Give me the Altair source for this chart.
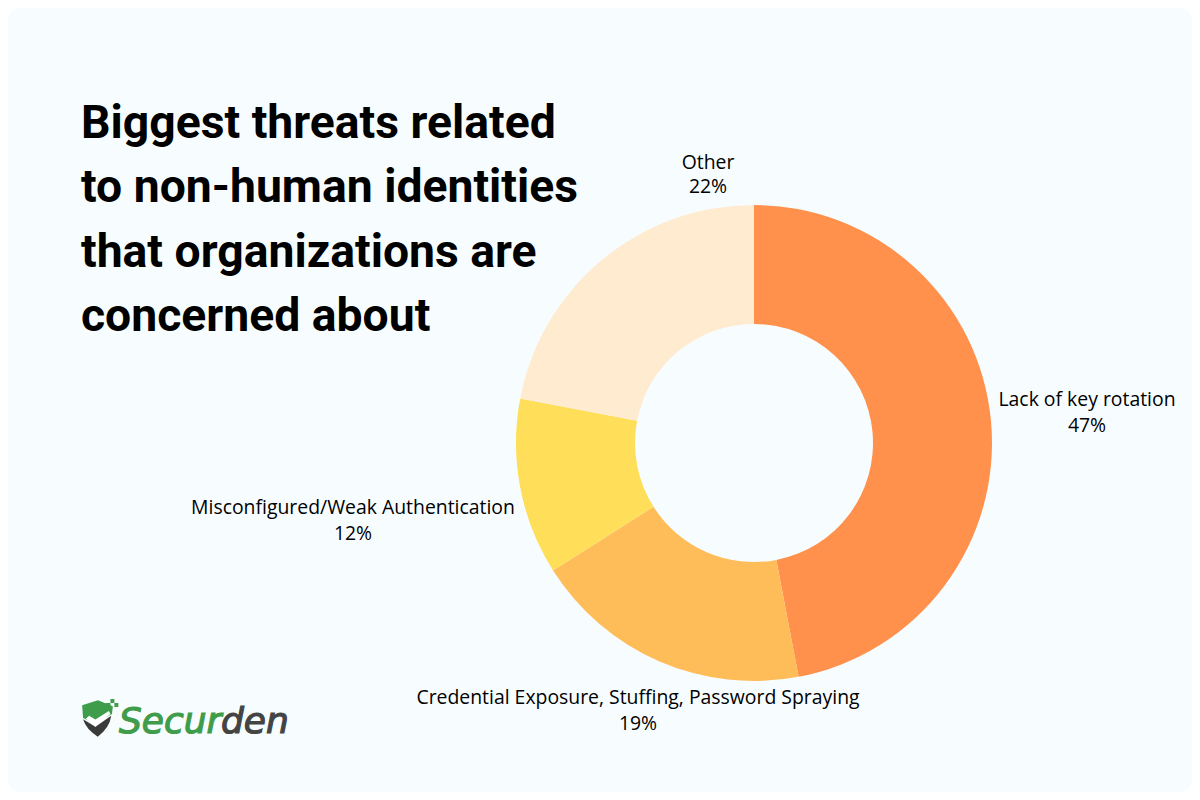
import altair as alt
import pandas as pd

categories = ["Lack of key rotation", "Credential Exposure, Stuffing, Password Spraying",
              "Misconfigured/Weak Authentication", "Other"]
values = [47, 19, 12, 22]
colors = ["#FF914D", "#FFBD59", "#FFDE59", "#FFEBD0"]
title_lines = ["Biggest threats related", "to non-human identities",
               "that organizations are", "concerned about"]

OX, OY = 8, 8
W, H = 1184, 784
CX, CY = 754 - OX, 443 - OY

df = pd.DataFrame({"cat": categories, "val": values, "ord": range(4), "color": colors})
arc = alt.Chart(df).mark_arc(radius=238, radius2=119).encode(
    theta=alt.Theta("val:Q", stack=True, scale=alt.Scale(domain=[0, 100], range=[0, 6.28318530718])),
    order=alt.Order("ord:Q"),
    color=alt.Color("color:N", scale=None),
    x=alt.value(CX), y=alt.value(CY),
)

def text(lines, size, font, weight="normal", align="center", color="#000000", style="normal", **kw):
    d = pd.DataFrame(lines, columns=["t", "x", "y"])
    return alt.Chart(d).mark_text(fontSize=size, font=font, fontWeight=weight, align=align,
                                  baseline="alphabetic", color=color, fontStyle=style, **kw).encode(
        text="t:N",
        x=alt.X("x:Q", scale=None),
        y=alt.Y("y:Q", scale=None),
    )

label_rows = [
    ("Other", 708, 169), ("22%", 708, 193),
    ("Lack of key rotation", 1087, 406), ("47%", 1087, 432),
    ("Misconfigured/Weak Authentication", 353, 514), ("12%", 353, 540),
    ("Credential Exposure, Stuffing, Password Spraying", 638, 704), ("19%", 638, 730),
]
labels = text([(t, x - OX, y - OY) for t, x, y in label_rows], 19.4, "Open Sans")

title_y = [137.5, 201.5, 266.5, 330.5]
title = text([(t, 81 - OX, y - OY) for t, y in zip(title_lines, title_y)], 46.3, "Roboto", "bold", "left")

logo1 = text([("Secur", 119 - OX, 733 - OY)], 36, "DejaVu Sans", "normal", "left", "#3F9C4B", "italic",
             stroke="#3F9C4B", strokeWidth=1.2)
logo2 = text([("den", 221 - OX, 733 - OY)], 36, "DejaVu Sans", "normal", "left", "#444444", "italic",
             stroke="#444444", strokeWidth=1.2)

def shape(path, color):
    return alt.Chart(pd.DataFrame({"x": [97 - OX], "y": [718 - OY]})).mark_point(
        shape=path, filled=True, color=color, opacity=1, size=1000, strokeWidth=0
    ).encode(x=alt.X("x:Q", scale=None), y=alt.Y("y:Q", scale=None))

shield_green = shape("M-0.94 -0.8 L0.06 -1.12 L1 -0.75 L0.95 -0.25 L-0.1 0.35 L-0.88 0.0 Z", "#3F9C4B")
shield_dark = shape("M-0.88 0.08 L-0.1 0.55 L0.9 -0.15 Q0.8 0.6 0.05 1.18 Q-0.7 0.7 -0.88 0.08 Z", "#3A3A3A")
check = shape("M-0.5 -0.15 L-0.1 0.1 L0.75 -0.45 L0.85 -0.25 L-0.1 0.55 L-0.7 0.05 Z", "#FFFFFF")
dots = shape("M0.55 -0.95 H0.85 V-0.65 H0.55 Z M0.85 -1.2 H1.1 V-0.95 H0.85 Z M1.1 -0.95 H1.35 V-0.7 H1.1 Z", "#3F9C4B")

chart = alt.layer(arc, labels, title, shield_green, shield_dark, check, dots, logo1, logo2).properties(
    width=W, height=H, padding=0, autosize=alt.AutoSizeParams(type="none"), background="#FFFFFF"
).configure_view(fill="#F7FDFF", stroke=None, cornerRadius=12)

chart.save("out.html", embed_options={"renderer": "svg", "actions": False})
